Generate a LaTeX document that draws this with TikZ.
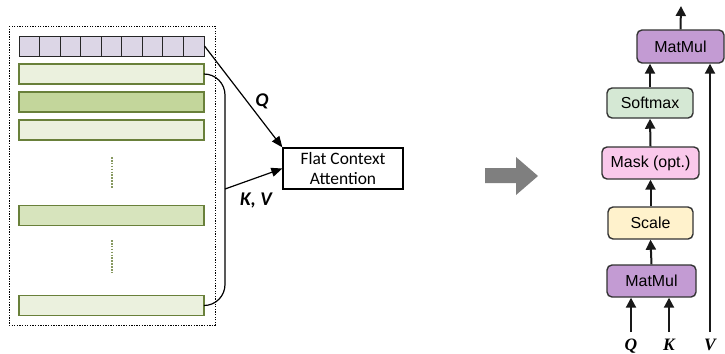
\documentclass[tikz,border=0pt]{standalone}
\usepackage{fontspec}
\setmainfont{Carlito}
\newfontfamily\arialfont{Liberation Sans}
\newfontfamily\timesfont{Liberation Serif}
\usetikzlibrary{arrows.meta,calc}
\definecolor{lilac}{RGB}{220,214,230}
\definecolor{moss}{RGB}{105,128,58}
\definecolor{paleleaf}{RGB}{235,241,222}
\definecolor{deepleaf}{RGB}{195,214,155}
\definecolor{midleaf}{RGB}{215,228,189}
\definecolor{mauve}{RGB}{195,155,211}
\definecolor{mint}{RGB}{213,232,212}
\definecolor{blush}{RGB}{250,200,235}
\definecolor{cream}{RGB}{255,242,204}
\definecolor{slab}{RGB}{51,51,51}
\definecolor{stone}{RGB}{127,127,127}
\tikzset{
  cell/.style={draw=black!85,fill=lilac,line width=0.9bp,minimum width=20.56bp,
    minimum height=20bp,inner sep=0pt},
  bar/.style={draw=moss,fill=#1,line width=1.3bp,minimum width=185bp,
    minimum height=20bp,inner sep=0pt},
  bar/.default=paleleaf,
  gap/.style={draw=moss!80,line width=2bp,dash pattern=on 1.6bp off 1.3bp},
  op/.style={draw=slab,fill=#1,rounded corners=5bp,line width=1.4bp,inner sep=0pt,
    font=\arialfont\fontsize{16}{18}\selectfont},
  op/.default=mauve,
  flow/.style={-{Triangle[length=11bp,width=9bp]},line width=1.2bp},
  lift/.style={-{Triangle[length=10bp,width=10bp]},line width=2bp,draw=black!90},
  tag/.style={font=\bfseries\itshape\fontsize{19.5}{22}\selectfont},
  var/.style={font=\timesfont\bfseries\itshape\fontsize{17.5}{20}\selectfont,anchor=base},
}
\begin{document}
\begin{tikzpicture}[x=1bp,y=-1bp]
  \useasboundingbox (0,0) rectangle (725,353);
  % left: token sequence
  \draw[line width=0.9bp,dash pattern=on 1.3bp off 1.3bp] (9,26) rectangle (215,325);
  \foreach \i in {0,...,8}
    \node[cell] (c\i) at (29.28+\i*20.56,46) {};
  \foreach \y/\c [count=\i] in {74/paleleaf,102/deepleaf,130/paleleaf,215.5/midleaf,305.5/paleleaf}
    \node[bar=\c] (bar\i) at (111.5,\y) {};
  \foreach \a/\b in {157/188,240/272}
    \draw[gap] (112,\a) -- (112,\b);
  \node[draw,line width=1.3bp,minimum width=120bp,minimum height=41bp,inner sep=0pt,
    align=center,font=\fontsize{17.5}{20}\selectfont] (fca) at (343,168.5) {Flat Context\\Attention};
  \coordinate (kvtop) at (225,74);
  \coordinate (kvbot) at (225,305.5);
  \coordinate (kvmid) at (225,189);
  \draw[flow] (c8.east) -- (fca.north west);
  \draw[line width=1.2bp,rounded corners=21bp] (bar1.east) -- (kvtop) -- (kvbot) -- (bar5.east);
  \draw[flow] (kvmid) -- (fca.west);
  \node[tag] (qtag) at (262,101) {Q};
  \node[tag] (kvtag) at (256,201) {K, V};
  % big arrow
  \fill[stone] (485,168) -- (516,168) -- (516,157) -- (538,176) -- (516,195) -- (516,183) -- (485,183) -- cycle;
  % right: attention block
  \node[op=mauve,minimum width=89bp,minimum height=32bp] (mm1) at (651.5,281) {MatMul};
  \node[op=cream,minimum width=85bp,minimum height=32bp] (scale) at (650.5,223) {Scale};
  \node[op=blush,minimum width=97bp,minimum height=32bp] (mask) at (650.5,163) {Mask (opt.)};
  \node[op=mint,minimum width=86bp,minimum height=30bp] (soft) at (650,103) {Softmax};
  \node[op=mauve,minimum width=87bp,minimum height=33bp] (mm2) at (680.5,46.5) {MatMul};
  \coordinate (res) at (681,6);
  \coordinate (qin) at (631,332);
  \coordinate (kin) at (669,332);
  \coordinate (vin) at (710,332);
  \draw[lift] (mm1.north) -- (scale.south);
  \draw[lift] (scale.north) -- (mask.south);
  \draw[lift] (mask.north) -- (soft.south);
  \draw[lift] (soft.north) -- (soft.north |- mm2.south);
  \draw[lift] (mm2.north) -- (res);
  \draw[lift] (qin) -- (qin |- mm1.south);
  \draw[lift] (kin) -- (kin |- mm1.south);
  \draw[lift] (vin) -- (vin |- mm2.south);
  \node[var] (qvar) at (631,350) {Q};
  \node[var] (kvar) at (669,350) {K};
  \node[var] (vvar) at (710,350) {V};
\end{tikzpicture}
\end{document}
